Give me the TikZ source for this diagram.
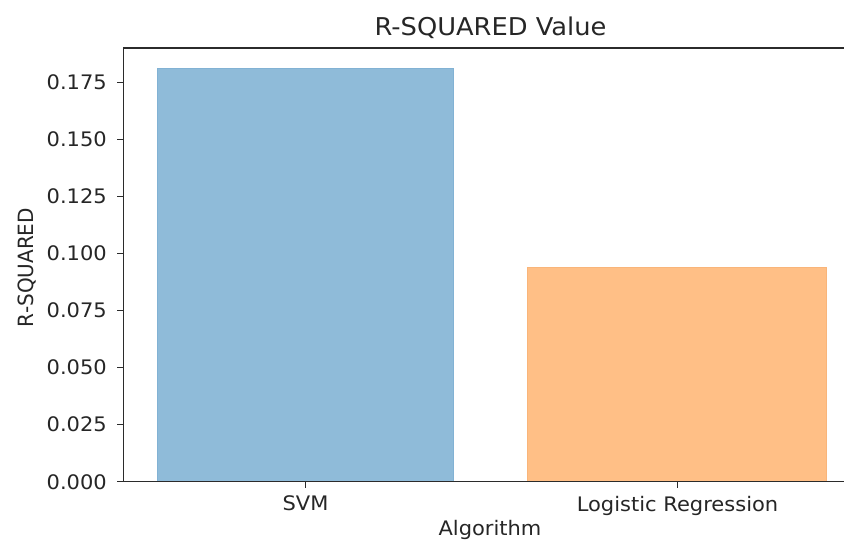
\documentclass[tikz,border=0pt]{standalone}
\usepackage{fontspec}
\setmainfont{DejaVu Sans}
\definecolor{axcol}{HTML}{2B2B2B}
\definecolor{txtcol}{HTML}{262626}
\definecolor{svmblue}{HTML}{8FBBD9}
\definecolor{svmedge}{HTML}{82B2D4}
\definecolor{lrorange}{HTML}{FFBF86}
\definecolor{lredge}{HTML}{F9B57A}
\tikzset{
  spine/.style={draw=axcol, line width=1.2pt},
  tickmark/.style={draw=axcol, line width=1pt},
  ticklbl/.style={font=\fontsize{20}{24}\selectfont, text=txtcol, inner sep=0pt, xscale=1.05},
  ylbl/.style={ticklbl, anchor=base east},
  xlbl/.style={ticklbl, anchor=base},
  titlelbl/.style={font=\fontsize{24.5}{28}\selectfont, text=txtcol, inner sep=0pt, anchor=base, xscale=1.05},
}
\begin{document}
\begin{tikzpicture}[x=1pt,y=-1pt]
\useasboundingbox (0,0) rectangle (844,541);
\fill[white] (0,0) rectangle (844,541);
% bars
\filldraw[fill=svmblue, draw=svmedge, line width=0.6pt] (157,68) rectangle (453,481.7);
\filldraw[fill=lrorange, draw=lredge, line width=0.6pt] (527.7,267.7) rectangle (826.7,481.7);
% spines
\draw[spine] (844,48) -- (123.5,48) -- (123.5,481.7) -- (844,481.7);
% y ticks
\foreach \v/\yy/\nm in {0.000/481.7/ya,0.025/424.6/yb,0.050/367.5/yc,0.075/310.4/yd,0.100/253.3/ye,0.125/196.2/yf,0.150/139.1/yg,0.175/82.0/yh}{
  \draw[tickmark] (117,\yy) -- (123.5,\yy);
  \node[ylbl] (\nm) at (107,\yy+7.3) {\v};
}
% x ticks
\draw[tickmark] (305.5,481.7) -- (305.5,488);
\draw[tickmark] (677.5,481.7) -- (677.5,488);
\node[xlbl] (svm) at (305.5,510) {SVM};
\node[xlbl] (lr) at (677.5,511.5) {Logistic Regression};
% axis labels
\node[xlbl] (xlab) at (490,535.8) {Algorithm};
\node[ticklbl, xscale=1, rotate=90, anchor=base] (ylab) at (33,267.5) {R-SQUARED};
% title
\node[titlelbl] (title) at (490.5,35) {R-SQUARED Value};
\end{tikzpicture}
\end{document}
